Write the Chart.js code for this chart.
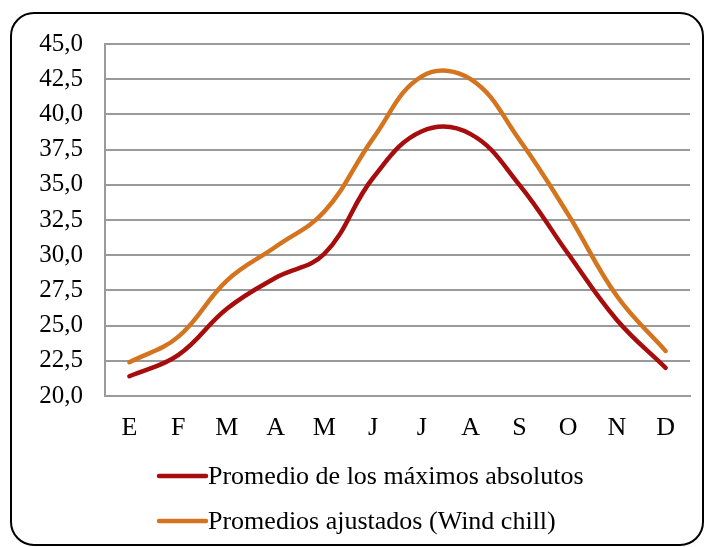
<!DOCTYPE html>
<html>
<head>
<meta charset="utf-8">
<script src="https://cdn.jsdelivr.net/npm/chart.js@4/dist/chart.umd.min.js"></script>
<style>
  html, body { margin: 0; padding: 0; background: #ffffff; }
  body { width: 705px; height: 547px; position: relative; overflow: hidden; }
  #frame { position: absolute; left: 10px; top: 12px; width: 694px; height: 534px; box-sizing: border-box;
           border: 2px solid #000; border-radius: 24px; }
  #wrap { position: absolute; left: 0; top: 0; width: 705px; height: 547px; }
</style>
</head>
<body>
<div id="frame"></div>
<div id="wrap"><canvas id="c" width="705" height="547"></canvas></div>
<script>
const categories = ["E", "F", "M", "A", "M", "J", "J", "A", "S", "O", "N", "D"];
const maxAbsolutos = [21.4, 22.9, 26.2, 28.4, 30.1, 35.5, 38.8, 38.6, 35.0, 30.1, 25.4, 22.0];
const windChill = [22.4, 24.2, 28.2, 30.6, 33.1, 38.3, 42.7, 42.5, 38.2, 32.9, 27.1, 23.2];
const seriesNames = ["Promedio de los máximos absolutos", "Promedios ajustados (Wind chill)"];
const yTicks = [20, 22.5, 25, 27.5, 30, 32.5, 35, 37.5, 40, 42.5, 45];

const RED = "#a80d0d";
const ORANGE = "#d4741f";
const FONT = "'Liberation Serif', 'Times New Roman', serif";

const legendPlugin = {
  id: "customLegend",
  afterDraw(chart) {
    const ctx = chart.ctx;
    const rows = [476, 521];
    ctx.save();
    chart.data.datasets.forEach((ds, i) => {
      const y = rows[i];
      ctx.strokeStyle = ds.borderColor;
      ctx.lineWidth = 4.5;
      ctx.lineCap = "round";
      ctx.beginPath();
      ctx.moveTo(159, y);
      ctx.lineTo(206, y);
      ctx.stroke();
      ctx.fillStyle = "#000";
      ctx.font = "26px " + FONT;
      ctx.textBaseline = "middle";
      ctx.textAlign = "left";
      ctx.fillText(ds.label, 208, y + 1);
    });
    ctx.restore();
  }
};

new Chart(document.getElementById("c"), {
  type: "line",
  data: {
    labels: categories,
    datasets: [
      { label: seriesNames[0], data: maxAbsolutos, borderColor: RED, backgroundColor: RED,
        borderWidth: 4.5, pointRadius: 0, tension: 0.4, borderCapStyle: "round" },
      { label: seriesNames[1], data: windChill, borderColor: ORANGE, backgroundColor: ORANGE,
        borderWidth: 4.5, pointRadius: 0, tension: 0.4, borderCapStyle: "round" }
    ]
  },
  options: {
    responsive: false,
    animation: false,
    layout: { padding: { left: 0, right: 15, top: 44, bottom: 0 } },
    plugins: { legend: { display: false }, tooltip: { enabled: false } },
    scales: {
      x: {
        offset: true,
        grid: { display: false, drawTicks: false },
        border: { display: true, color: "#9a9a9a", width: 2 },
        ticks: { color: "#000", font: { family: FONT, size: 26 }, padding: 17, maxRotation: 0 },
        afterFit(s) { s.height = 151; }
      },
      y: {
        min: 20, max: 45,
        afterBuildTicks(s) { s.ticks = yTicks.map(v => ({ value: v })); },
        grid: { color: "#9a9a9a", lineWidth: 2, drawTicks: false },
        border: { display: true, color: "#9a9a9a", width: 2 },
        ticks: {
          color: "#000", font: { family: FONT, size: 25 }, padding: 22,
          callback: v => v.toFixed(1).replace(".", ",")
        },
        afterFit(s) { s.width = 105; }
      }
    }
  },
  plugins: [legendPlugin]
});
</script>
</body>
</html>
